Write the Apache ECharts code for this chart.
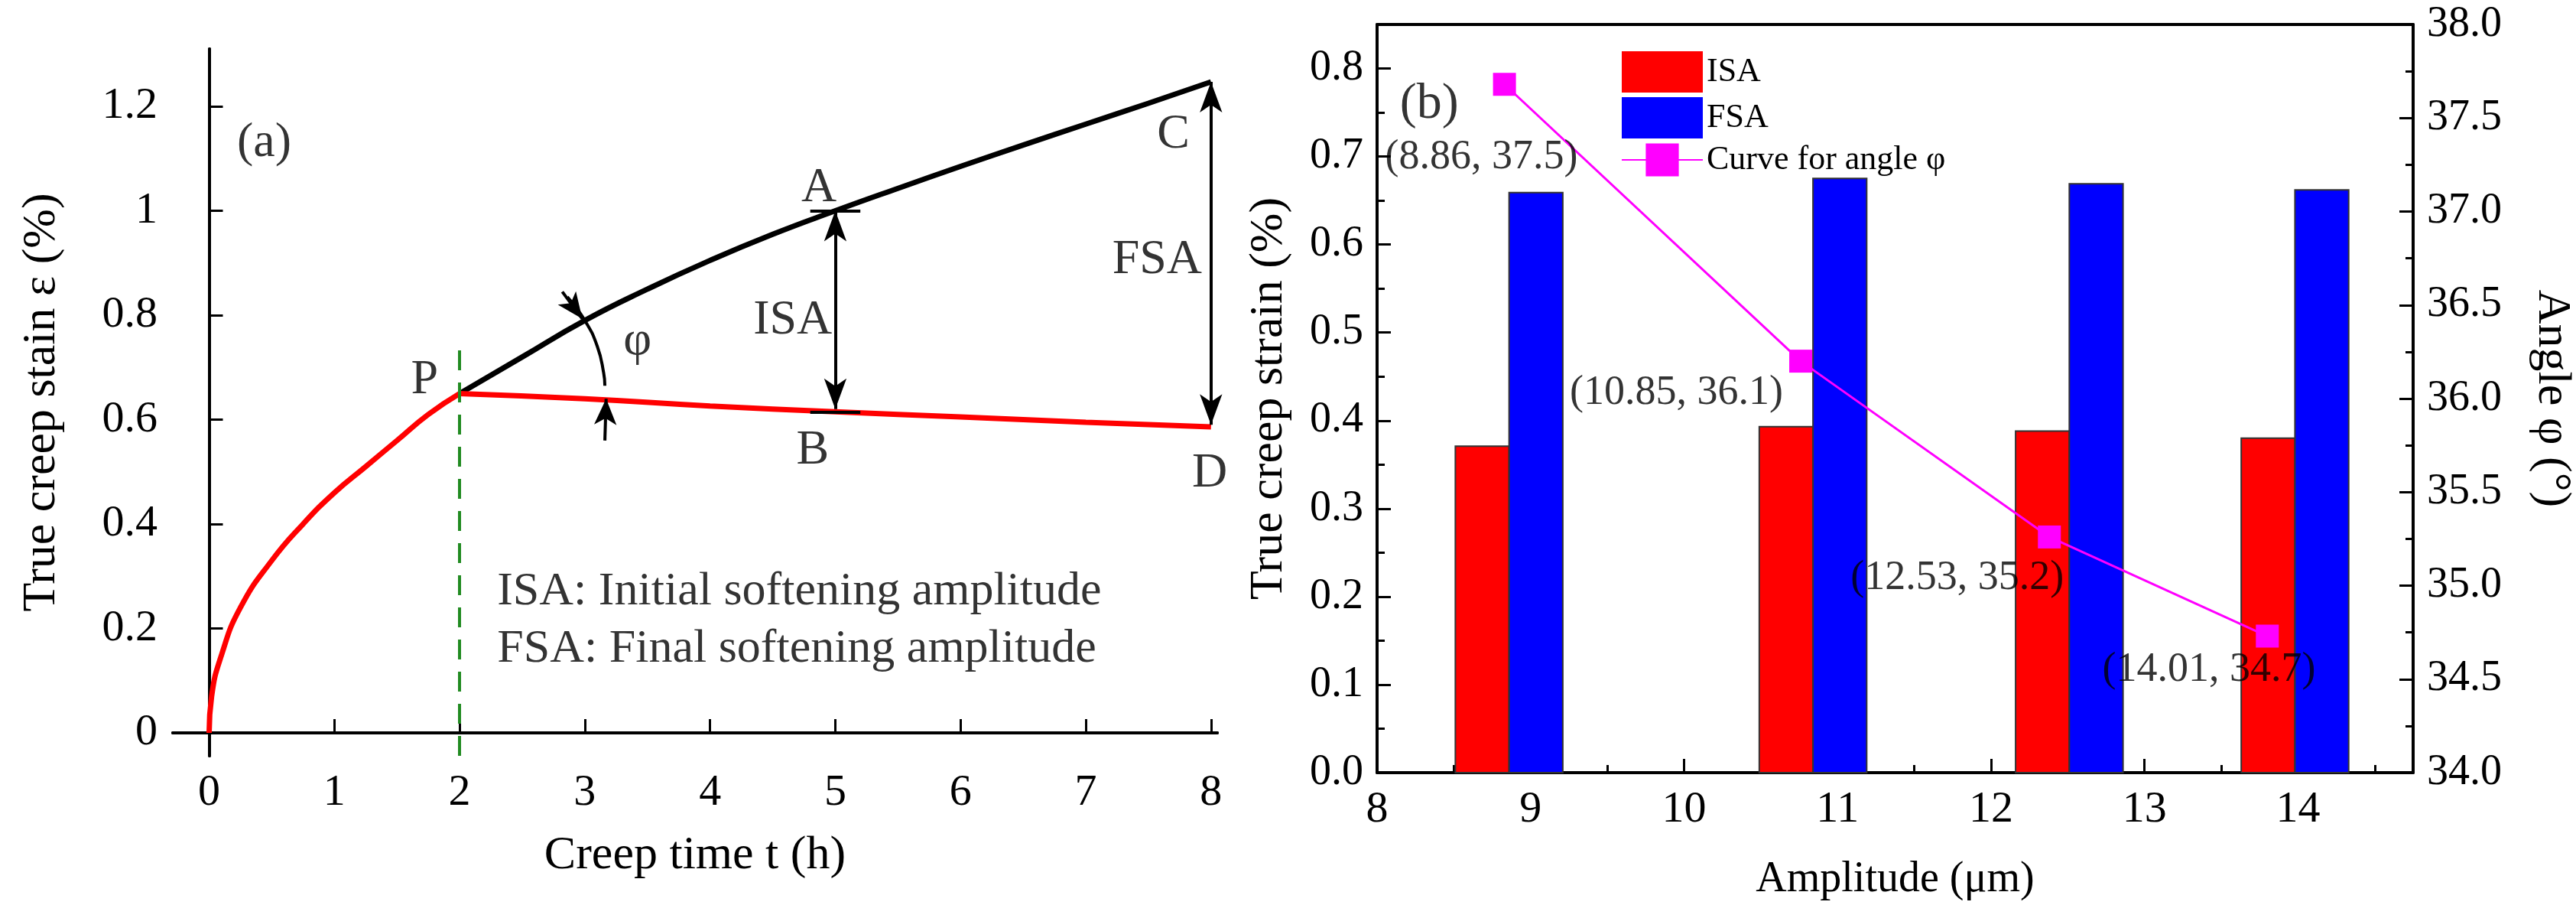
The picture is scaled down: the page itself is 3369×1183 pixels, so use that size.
<!DOCTYPE html>
<html><head><meta charset="utf-8">
<script src="https://cdn.jsdelivr.net/npm/echarts@6/dist/echarts.min.js"></script>
<style>html,body{margin:0;padding:0;background:#fff}#c{width:3369px;height:1183px}</style>
</head><body><div id="c"></div>
<script>
// Panel (a)
const redEarly = [[0,0],[0.02,0.07],[0.1,0.15],[0.25,0.24],[0.5,0.33],[0.75,0.4],[1,0.46],[1.25,0.51],[1.5,0.56],[1.75,0.61],[2,0.65]];
const redLate = [[2,0.65],[3,0.64],[4,0.626],[5,0.615],[6,0.605],[7,0.595],[8,0.586]];
const blackCurve = [[2,0.65],[2.5,0.72],[3,0.79],[3.5,0.85],[4,0.905],[4.5,0.955],[5,1.0],[5.5,1.043],[6,1.085],[6.5,1.126],[7,1.166],[7.5,1.206],[8,1.247]];
const phiArc = [[2.86,0.835],[3.0,0.79],[3.1,0.74],[3.15,0.69],[3.16,0.665]];
const aTicksX = [0,1,2,3,4,5,6,7,8];
const aTicksY = [0,0.2,0.4,0.6,0.8,1.0,1.2];
const aLabels = [
  {t:'(a)',p:[0.44,1.13]},{t:'A',p:[4.87,1.043]},{t:'B',p:[4.82,0.54]},{t:'C',p:[7.7,1.145]},
  {t:'D',p:[7.99,0.497]},{t:'P',p:[1.72,0.675]},{t:'φ',p:[3.42,0.75]},{t:'ISA',p:[4.66,0.79]},{t:'FSA',p:[7.57,0.905]}
];
const aNotes = [{t:'ISA: Initial softening amplitude',p:[2.3,0.27]},{t:'FSA: Final softening amplitude',p:[2.3,0.16]}];
// Panel (b)
const amplitude = [8.86,10.84,12.51,13.98];
const isa = [0.371,0.393,0.388,0.380];
const fsa = [0.659,0.675,0.669,0.662];
const angleX = [8.83,10.76,12.38,13.8];
const angleY = [37.68,36.2,35.26,34.73];
const angleLabels = ['(8.86, 37.5)','(10.85, 36.1)','(12.53, 35.2)','(14.01, 34.7)'];
const angleLabelPos = [[8.68,37.29],[9.95,36.03],[11.78,35.04],[13.42,34.55]];

const F = 'Liberation Serif';
const chart = echarts.init(document.getElementById('c'));
const barW = 0.35;
function barSeries(name, vals, side, color){
  return {type:'custom', name, xAxisIndex:1, yAxisIndex:1, itemStyle:{color},
    data: amplitude.map((a,i)=>[a, vals[i]]),
    renderItem:(params, api)=>{
      const x = api.value(0), v = api.value(1);
      const x0 = side<0 ? x-barW : x, x1 = side<0 ? x : x+barW;
      const p0 = api.coord([x0, v]), p1 = api.coord([x1, 0]);
      return {type:'rect', shape:{x:p0[0], y:p0[1], width:p1[0]-p0[0], height:p1[1]-p0[1]},
        style:{fill:color, stroke:'#333', lineWidth:2}};
    }};
}
const axisLine = {show:true, lineStyle:{color:'#000', width:4}};
const tickStyle = {show:true, inside:true, length:18, lineStyle:{color:'#000', width:3}};
const minor = {show:true, splitNumber:2, length:10, lineStyle:{color:'#000', width:3}};
function txtScatter(arr, size, align){
  return {type:'scatter', xAxisIndex:0, yAxisIndex:0, symbolSize:0, silent:true,
    data: arr.map(o=>({value:o.p, label:{show:true, formatter:o.t, position:'inside', align:align||'center', fontFamily:F, fontSize:size, color:'#000'}}))};
}
chart.setOption({
  animation:false,
  legend:{left:2115, top:62, orient:'vertical', itemWidth:106, itemHeight:54, itemGap:6,
    textStyle:{fontFamily:F, fontSize:44, color:'#000'},
    data:[{name:'ISA', icon:'rect'},{name:'FSA', icon:'rect'},{name:'Curve for angle φ'}]},
  grid:[{left:226, top:64, width:1366, height:924},{left:1801, top:32, width:1373, height:993}],
  xAxis:[
    {type:'value', gridIndex:0, min:-0.29, max:8.05, axisLine, axisTick:Object.assign({customValues:aTicksX}, tickStyle),
     splitLine:{show:false}, axisLabel:{customValues:aTicksX, fontFamily:F, fontSize:58, color:'#000', margin:20},
     name:'Creep time t (h)', nameLocation:'middle', nameGap:100, nameTextStyle:{fontFamily:F, fontSize:62, color:'#000'}},
    {type:'value', gridIndex:1, min:8, max:14.75, interval:1, axisLine, axisTick:tickStyle, minorTick:minor,
     splitLine:{show:false}, axisLabel:{fontFamily:F, fontSize:58, color:'#000', margin:20, showMaxLabel:false},
     name:'Amplitude (μm)', nameLocation:'middle', nameGap:112, nameTextStyle:{fontFamily:F, fontSize:56, color:'#000'}},
    {type:'value', gridIndex:0, position:'top', min:-0.29, max:8.05, axisLine, axisTick:{show:false}, axisLabel:{show:false}, splitLine:{show:false}},
    {type:'value', gridIndex:1, position:'top', min:8, max:14.75, axisLine, axisTick:{show:false}, axisLabel:{show:false}, splitLine:{show:false}}
  ],
  yAxis:[
    {type:'value', gridIndex:0, min:-0.044, max:1.31, axisLine, axisTick:Object.assign({customValues:aTicksY}, tickStyle),
     splitLine:{show:false}, axisLabel:{customValues:aTicksY, fontFamily:F, fontSize:58, color:'#000', margin:20, formatter:v=>String(+v.toFixed(1))},
     name:'True creep stain ε (%)', nameLocation:'middle', nameGap:140, nameTextStyle:{fontFamily:F, fontSize:62, color:'#000'}},
    {type:'value', gridIndex:1, min:0, max:0.85, interval:0.1, axisLine, axisTick:tickStyle, minorTick:minor,
     splitLine:{show:false}, axisLabel:{fontFamily:F, fontSize:56, color:'#000', margin:18, showMaxLabel:false, formatter:v=>v.toFixed(1)},
     name:'True creep strain (%)', nameLocation:'middle', nameGap:110, nameTextStyle:{fontFamily:F, fontSize:62, color:'#000'}},
    {type:'value', gridIndex:1, position:'right', min:34, max:38, interval:0.5, axisLine, axisTick:tickStyle, minorTick:minor,
     splitLine:{show:false}, axisLabel:{fontFamily:F, fontSize:56, color:'#000', margin:18, formatter:v=>v.toFixed(1)},
     name:'Angle φ (°)', nameLocation:'middle', nameGap:150, nameRotate:-90, nameTextStyle:{fontFamily:F, fontSize:62, color:'#000'}},
    {type:'value', gridIndex:0, position:'right', min:-0.044, max:1.31, axisLine, axisTick:{show:false}, axisLabel:{show:false}, splitLine:{show:false}}
  ],
  series:[
    {type:'line', xAxisIndex:0, yAxisIndex:0, data:blackCurve, showSymbol:false, smooth:true, lineStyle:{color:'#000', width:7}},
    {type:'line', xAxisIndex:0, yAxisIndex:0, data:redEarly, showSymbol:false, smooth:true, lineStyle:{color:'#f00', width:7}},
    {type:'line', xAxisIndex:0, yAxisIndex:0, data:redLate, showSymbol:false, smooth:true, lineStyle:{color:'#f00', width:7}},
    {type:'line', xAxisIndex:0, yAxisIndex:0, data:phiArc, showSymbol:false, smooth:true, lineStyle:{color:'#000', width:4},
     markLine:{silent:true, symbol:['none','none'], label:{show:false}, lineStyle:{color:'#000', width:4, type:'solid'},
      data:[
        [{coord:[4.8,1.0]},{coord:[5.2,1.0]}],[{coord:[4.8,0.615]},{coord:[5.2,0.615]}],
        [{coord:[7.8,1.247]},{coord:[8.1,1.247]}],[{coord:[7.75,0.586]},{coord:[8.07,0.586]}],
        [{coord:[5,0.62],symbol:'arrow',symbolSize:[22,40]},{coord:[5,1.0],symbol:'arrow',symbolSize:[22,40]}],
        [{coord:[8,0.59],symbol:'arrow',symbolSize:[22,40]},{coord:[8,1.247],symbol:'arrow',symbolSize:[22,40]}],
        [{coord:[2.82,0.845]},{coord:[2.98,0.793],symbol:'arrow',symbolSize:[22,34]}],
        [{coord:[3.16,0.56]},{coord:[3.17,0.64],symbol:'arrow',symbolSize:[22,34]}],
        [{coord:[2,-0.044],lineStyle:{color:'#228B22',type:[26,16],width:4}},{coord:[2,0.74]}]
      ]}},
    txtScatter(aLabels, 64),
    txtScatter(aNotes, 62, 'left'),
    barSeries('ISA', isa, -1, '#ff0000'),
    barSeries('FSA', fsa, 1, '#0000ff'),
    {type:'line', name:'Curve for angle φ', xAxisIndex:1, yAxisIndex:2, data:angleX.map((x,i)=>[x,angleY[i]]),
     symbol:'rect', symbolSize:30, itemStyle:{color:'#ff00ff'}, lineStyle:{color:'#ff00ff', width:3}, z:5},
    {type:'scatter', xAxisIndex:1, yAxisIndex:2, symbolSize:0, silent:true, z:6,
     data:angleLabelPos.map((p,i)=>({value:p, label:{show:true, position:'inside', formatter:angleLabels[i], fontFamily:F, fontSize:54, color:'#000'}}))},
    {type:'scatter', xAxisIndex:1, yAxisIndex:1, symbolSize:0, silent:true,
     data:[{value:[8.34,0.759], label:{show:true, position:'inside', formatter:'(b)', fontFamily:F, fontSize:66, color:'#000'}}]}
  ]
});
</script></body></html>
